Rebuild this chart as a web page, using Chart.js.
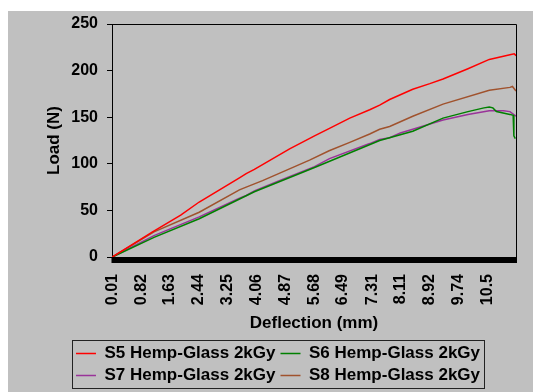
<!DOCTYPE html>
<html>
<head>
<meta charset="utf-8">
<script src="https://cdn.jsdelivr.net/npm/chart.js@4"></script>
<style>
  html, body { margin: 0; padding: 0; background: #fff; }
  #panel { position: absolute; left: 8px; top: 11px; width: 525px; height: 381px; background: #c0c0c0; }
</style>
</head>
<body>
<div id="panel"><canvas id="loadChart" width="525" height="381"></canvas></div>
<script>
// deflection (mm) / load (N) readings per specimen
const s5Defl = [0.01, 1.14, 1.93, 2.45, 3.58, 3.77, 4.0, 4.99, 5.69, 6.11, 6.68, 7.24, 7.52, 7.8, 8.45, 8.93, 9.3, 10.0, 10.6, 11.18, 11.3, 11.35];
const s5Load = [0, 27, 45, 59, 85, 89.5, 94, 116, 130, 138, 149, 158, 163, 169, 180, 186, 191, 202, 212, 217, 218, 216];

const s6Defl = [0.01, 1.18, 2.45, 4.0, 5.69, 7.52, 8.45, 9.3, 10.0, 10.45, 10.6, 10.7, 10.8, 11.18, 11.27, 11.29, 11.33];
const s6Load = [0, 21, 41, 70, 96, 125, 135, 149, 156, 160, 161, 160, 156, 153, 152, 130, 127];

const s7Defl = [0.01, 1.18, 2.45, 3.58, 3.77, 4.0, 4.7, 5.69, 6.11, 7.24, 7.52, 7.8, 8.1, 8.45, 9.3, 10.0, 10.6, 11.0, 11.18, 11.35];
const s7Load = [0, 23, 43, 63, 66, 71, 82, 97, 105.6, 121.7, 126, 128, 133, 137, 147, 153, 157, 157, 156, 151];

const s8Defl = [0.01, 1.18, 2.45, 3.58, 3.77, 4.0, 4.23, 5.55, 6.1, 6.68, 7.24, 7.52, 7.8, 8.45, 9.3, 10.6, 11.18, 11.25, 11.35];
const s8Load = [0, 27, 48, 72, 75, 78.5, 82, 104, 114, 123, 132, 137, 140, 151, 164, 179, 182, 183, 178];

const seriesNames = ['S5 Hemp-Glass 2kGy', 'S6 Hemp-Glass 2kGy', 'S7 Hemp-Glass 2kGy', 'S8 Hemp-Glass 2kGy'];
const seriesColors = ['#ff0000', '#008000', '#993399', '#a0522d'];

const xTickValues = [0.01, 0.82, 1.63, 2.44, 3.25, 4.06, 4.87, 5.68, 6.49, 7.31, 8.11, 8.92, 9.74, 10.55];
const xTickLabels = ['0.01', '0.82', '1.63', '2.44', '3.25', '4.06', '4.87', '5.68', '6.49', '7.31', '8.11', '8.92', '9.74', '10.5'];
const yTicks = [0, 50, 100, 150, 200, 250];

const FONT = "Arial, 'Liberation Sans', sans-serif";

const pairs = (xs, ys) => xs.map((x, i) => ({ x: x, y: ys[i] }));
const allDefl = [s5Defl, s6Defl, s7Defl, s8Defl];
const allLoad = [s5Load, s6Load, s7Load, s8Load];

const datasets = seriesNames.map((name, i) => ({
  label: name,
  data: pairs(allDefl[i], allLoad[i]),
  borderColor: seriesColors[i],
  backgroundColor: seriesColors[i],
  borderWidth: 1.5,
  pointRadius: 0,
  tension: 0
}));

// frame on top/right, heavy bar under the plot, box around the legend
const framePlugin = {
  id: 'frame',
  afterLayout(chart) {
    const lg = chart.legend;
    lg.left += 5;
    lg.right += 5;
    lg.top += 2;
    lg.bottom += 2;
  },
  afterDraw(chart) {
    const { ctx, chartArea: a } = chart;
    ctx.save();
    ctx.strokeStyle = '#000';
    ctx.lineWidth = 1;
    ctx.beginPath();
    ctx.moveTo(a.left, a.top + 0.5);
    ctx.lineTo(a.right + 0.5, a.top + 0.5);
    ctx.lineTo(a.right + 0.5, a.bottom);
    ctx.stroke();
    ctx.fillStyle = '#000';
    ctx.fillRect(a.left - 0.5, a.bottom, a.right - a.left + 1.5, 6);

    const boxes = chart.legend.legendHitBoxes;
    if (boxes && boxes.length) {
      const l = Math.min(...boxes.map(b => b.left));
      const r = Math.max(...boxes.map(b => b.left + b.width));
      const t = Math.min(...boxes.map(b => b.top));
      const btm = Math.max(...boxes.map(b => b.top + b.height));
      ctx.strokeStyle = '#222';
      ctx.strokeRect(Math.round(l - 4) + 0.5, Math.round(t - 5) + 0.5, Math.round(r - l + 8), Math.round(btm - t + 9));
    }
    ctx.restore();
  }
};

new Chart(document.getElementById('loadChart'), {
  type: 'line',
  data: { datasets: datasets },
  plugins: [framePlugin],
  options: {
    responsive: false,
    devicePixelRatio: 1,
    animation: false,
    layout: { padding: { left: 22, right: 17, top: 13, bottom: 0 } },
    plugins: {
      legend: {
        position: 'bottom',
        labels: {
          color: '#000',
          font: { family: FONT, size: 17, weight: 'bold' },
          usePointStyle: true,
          pointStyle: 'line',
          pointStyleWidth: 20,
          padding: 5
        }
      },
      tooltip: { enabled: false }
    },
    scales: {
      x: {
        type: 'linear',
        min: 0,
        max: 11.35,
        afterBuildTicks: scale => { scale.ticks = xTickValues.map(v => ({ value: v })); },
        afterFit: scale => { scale.height = 81; },
        grid: { display: false, drawTicks: false },
        border: { display: false },
        ticks: {
          autoSkip: false,
          minRotation: 90,
          maxRotation: 90,
          padding: 17,
          color: '#000',
          font: { family: FONT, size: 16, weight: 'bold' },
          callback: (value, index) => xTickLabels[index]
        },
        title: {
          display: true,
          text: 'Deflection (mm)',
          color: '#000',
          font: { family: FONT, size: 17, weight: 'bold' },
          padding: { top: 0, bottom: 4 }
        }
      },
      y: {
        min: 0,
        max: 250,
        afterBuildTicks: scale => { scale.ticks = yTicks.map(v => ({ value: v })); },
        afterFit: scale => {
          scale.width = 82;
          scale.paddingTop = 0;
          scale.paddingBottom = 0;
        },
        grid: { drawOnChartArea: false, tickLength: 5, color: '#000' },
        border: { color: '#000', width: 1 },
        ticks: {
          padding: 9,
          color: '#000',
          font: { family: FONT, size: 16, weight: 'bold' }
        },
        title: {
          display: true,
          text: 'Load (N)',
          color: '#000',
          font: { family: FONT, size: 17, weight: 'bold' },
          padding: { top: 14, bottom: 0 }
        }
      }
    }
  }
});
</script>
</body>
</html>
